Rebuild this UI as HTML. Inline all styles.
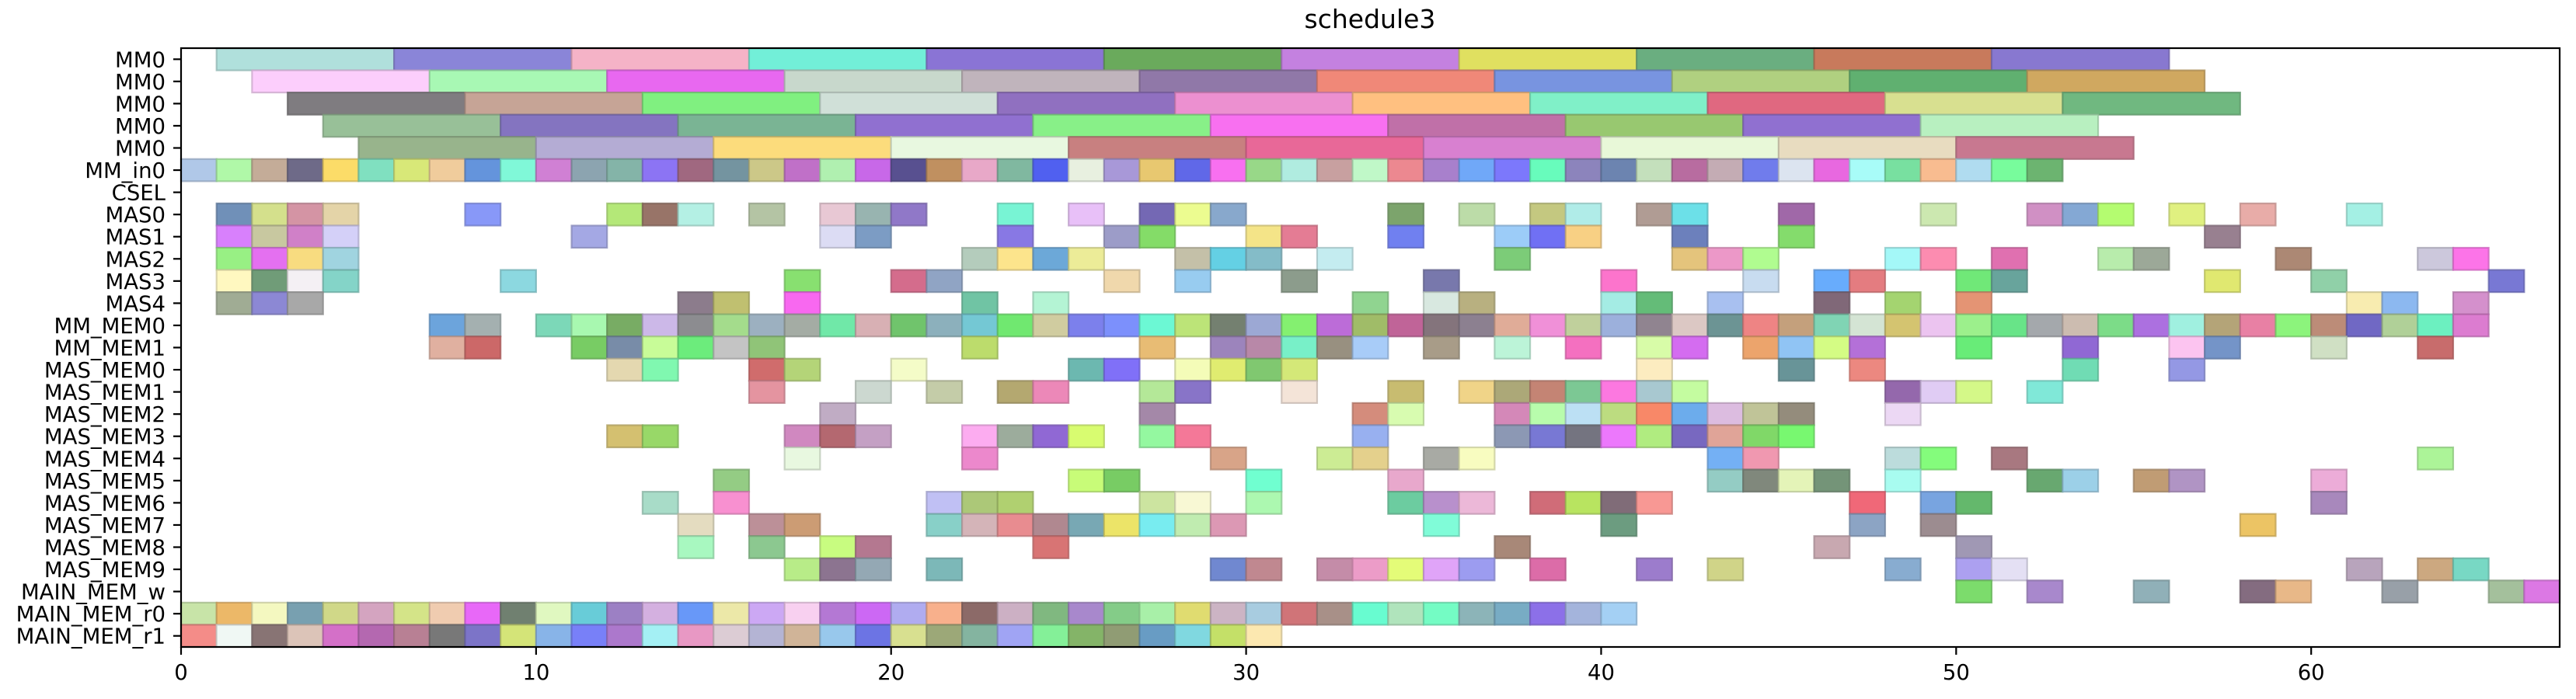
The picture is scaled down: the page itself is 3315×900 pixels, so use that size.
<!DOCTYPE html>
<html><head><meta charset="utf-8"><title>schedule3</title>
<style>html,body{margin:0;padding:0;background:#fff;}svg{display:block;font-family:"DejaVu Sans","Liberation Sans",sans-serif;}</style>
</head><body>
<svg id="chart" width="3315" height="900" viewBox="0 0 3315 900" xmlns="http://www.w3.org/2000/svg">
<rect x="0" y="0" width="3315" height="900" fill="#fff"/>
<text x="1763" y="36" font-size="33" text-anchor="middle" fill="#000">schedule3</text>
<g id="bars"></g>
<g id="axes"></g>
</svg>
<script>
const rowLabels = ["MM0","MM0","MM0","MM0","MM0","MM_in0","CSEL","MAS0","MAS1","MAS2","MAS3","MAS4","MM_MEM0","MM_MEM1","MAS_MEM0","MAS_MEM1","MAS_MEM2","MAS_MEM3","MAS_MEM4","MAS_MEM5","MAS_MEM6","MAS_MEM7","MAS_MEM8","MAS_MEM9","MAIN_MEM_w","MAIN_MEM_r0","MAIN_MEM_r1"];
const rowDur = [5,5,5,5,5,1,1,1,1,1,1,1,1,1,1,1,1,1,1,1,1,1,1,1,1,1,1];
const xTicks = [0,10,20,30,40,50,60];
const xMin = 0, xMax = 67;

const s0 = [1,6,11,16,21,26,31,36,41,46,51];
const c0 = ["b0e0dc","8a85d8","f5b3c7","72efd8","8a74d5","6aaa5c","c481e0","e0e060","6aae80","c87a5c","8878d0"];
const s1 = [2,7,12,17,22,27,32,37,42,47,52];
const c1 = ["fccefc","a8f8b4","e868f0","c8d8cc","c0b4bc","9078a8","f08878","7894e0","b0d080","60b070","d0a860"];
const s2 = [3,8,13,18,23,28,33,38,43,48,53];
const c2 = ["7f7c80","c6a496","80f080","d0e0d8","9070c0","ec90d0","ffc080","80f0c8","e06880","d8e090","70b880"];
const s3 = [4,9,14,19,24,29,34,39,44,49];
const c3 = ["98c098","8474c0","7ab494","9070d0","88f088","f870f0","c070a8","98c870","9070d0","b8f0c0"];
const s4 = [5,10,15,20,25,30,35,40,45,50];
const c4 = ["98b48c","b4acd4","fcdc7c","e8f8e0","c88080","e86898","d880d0","e8f8d8","e8dcc0","c87890"];
const s5 = [0,1,2,3,4,5,6,7,8,9,10,11,12,13,14,15,16,17,18,19,20,21,22,23,24,25,26,27,28,29,30,31,32,33,34,35,36,37,38,39,40,41,42,43,44,45,46,47,48,49,50,51,52];
const c5 = ["b0c8e8","b0f8a8","c4ac98","6e6a88","fcdc68","80e0c0","d8e878","f0cc9c","6494dc","80f8d8","d080d4","8ca4b0","84b4a8","8c74f4","a06880","7494a0","ccc888","c070c8","b0f0b0","c868e8","585090","c09060","e8a8c8","80b8a0","5060f0","e8f0e0","a898d8","e8c870","6068e8","f870f0","98d888","b0ece0","c8a0a0","c0f8c8","ec8890","a880cc","70a8f8","7c78fc","68fcbc","8c84bc","6c84b0","c4e0bc","b86ca0","c4acb4","707cec","dce4f0","e868e0","a8fcf8","78e0a0","f8bc90","b0dcf0","78fc9c","6cb470"];
const s6 = [];
const c6 = [];
const s7 = [1,2,3,4,8,12,13,14,16,18,19,20,23,25,27,28,29,34,36,38,39,41,42,45,49,52,53,54,56,58,61];
const c7 = ["7090b8","d4e08c","d494a4","e4d4a8","8898f8","b4e878","987468","b4f0e4","b4c4a4","e8c8d4","98b4b0","9078c8","78f4d4","e8c0f8","7468b4","ecfc90","88a8cc","7ca46c","bcdca8","c4c880","b0ece8","b09c94","6ce0e8","a068a8","cce8b0","d090c4","84a8d4","b4fc70","e0f080","e8aca8","a4f0e4"];
const s8 = [1,2,3,4,11,18,19,23,26,27,30,31,34,37,38,39,42,45,57];
const c8 = ["d880fc","c8c8a0","d080c8","d4d0f8","a4a8e4","dcdcf4","7c9cc4","8878e4","9c9cc8","84dc68","f4e488","e47c94","7080f0","9cccf8","7070f4","f8d084","6c80bc","84dc6c","988090"];
const s9 = [1,2,3,4,22,23,24,25,28,29,30,32,37,42,43,44,48,49,51,54,55,59,63,64];
const c9 = ["98f084","e470f0","f8dc80","a0d4e0","b4ccbc","fce48c","6ca8d8","ecec98","c4c0a8","64d0e4","84bcc8","c4ecf0","7ccc78","e4c47c","ec98c8","b0fc90","a4f8f8","fc8cb0","e070b0","b8ecac","9ca898","ac8874","ccc8dc","fc74e8"];
const s10 = [1,2,3,4,9,17,20,21,26,28,31,35,40,44,46,47,50,51,57,60,65];
const c10 = ["fff8c0","709c78","f4f0f4","84d4c8","8cd8e0","88e070","d46c8c","90a4c4","f0d8ac","98ccf0","8c9c8c","7878ac","fc74cc","c8dcf0","68acfc","e47c80","70e878","68a49c","e0e870","90d0a8","7878d4"];
const s11 = [1,2,3,14,15,17,22,24,33,35,36,40,41,43,46,48,50,61,62,64];
const c11 = ["a0ac94","8c88d4","a8a8a8","8c7c8c","c0c070","f868f0","70c4a4","b4f4d4","90d490","d8e8e0","b8b080","a4ece4","64bc78","a8c0f0","806878","a4d470","e49474","f8ecb0","8cb8f0","d490cc"];
const s12 = [7,8,10,11,12,13,14,15,16,17,18,19,20,21,22,23,24,25,26,27,28,29,30,31,32,33,34,35,36,37,38,39,40,41,42,43,44,45,46,47,48,49,50,51,52,53,54,55,56,57,58,59,60,61,62,63,64];
const c12 = ["6ca4dc","a4b0b0","7cd8b8","a8f8b0","78ac64","ccb8e8","8c8c90","a4dc8c","9cb0c0","a4aca4","70e8a8","d8b0b4","70c46c","8cb0bc","74c8d4","70e870","d0cca0","7c80ec","7c90fc","6cf8d4","bce478","748070","9ca8d4","84f070","bc6cd8","a0bc68","c06498","84747c","8c8090","e0ac98","f090d8","c0d09c","9cb0dc","908490","dcc8c4","6c9494","ee8484","c4a07c","80d4b4","d4e4d4","d4c470","ecc4f0","9cf08c","68e488","a4a8ac","ccbcb0","7cdc88","ac70e0","a0f0e0","b4a478","e880a4","8cf47c","bc8c78","7068c4","b0d098","6cf0c0","dc7cd0"];
const s13 = [7,8,11,12,13,14,15,16,22,27,29,30,31,32,33,35,37,39,41,42,44,45,46,47,50,53,56,57,60,63];
const c13 = ["e0b0a0","cc6868","78cc64","788ca8","c8fc98","6cec7c","c4c4c4","90c478","bcdc6c","e8bc74","9c84bc","b888a8","78f0c8","989080","a8ccf8","a89c88","bcf4d8","f470c0","d8fca8","d46cf0","eca46c","90c4f4","d4fc84","b470d8","68ec78","9068d4","fcc4f0","7494c8","d0e0c4","c86c6c"];
const s14 = [12,13,16,17,20,25,26,28,29,30,31,41,45,47,53,56];
const c14 = ["e4d8b0","80f8b0","d06c6c","b4d478","f4fcc8","6cb8b0","8070f8","f4fcb8","e0ec70","80c870","d4e878","fcecc0","689498","ec8880","70dcb4","9498e4"];
const s15 = [16,19,21,23,24,27,28,31,34,36,37,38,39,40,41,42,48,49,50,52];
const c15 = ["e494a0","ccd8d0","c4cca8","b4a870","ec88b8","b4e898","8874c8","f4e4d8","c8bc70","f0d488","aca878","c48474","7cc894","fc78e0","a8c8d0","c4fca0","9468ac","e0ccf4","d4f888","80e8d8"];
const s16 = [18,27,33,34,37,38,39,40,41,42,43,44,45,48];
const c16 = ["c0acc4","a488a8","d48c7c","d8fcb0","d488b8","b8fcac","bce0f4","bcdc80","f88868","6cacec","dcbce0","c0c498","948c7c","ecd8f4"];
const s17 = [12,13,17,18,19,22,23,24,25,27,28,33,37,38,39,40,41,42,43,44,45];
const c17 = ["d4c070","98d868","d088c0","b46870","c4a0c4","fcacf0","9cac9c","9068d4","d8fc70","94f8a0","f47898","98b0f0","8c98b4","7878d4","747480","ec78fc","b0ec80","7868c0","e0a498","80d868","78f870"];
const s18 = [17,22,29,32,33,35,36,43,44,48,49,51,63];
const c18 = ["e8f8e0","ec88cc","d8a488","ccec94","e4d08c","a8aaa4","f8fcc0","74b0f4","f098b0","bcdcdc","84fc7c","a87880","acf498"];
const s19 = [15,25,26,30,34,43,44,45,46,48,52,53,55,56,60];
const c19 = ["94cc84","c8fc78","78cc64","70ffd0","e8a8cc","94ccc4","80887c","e4f4b8","749478","a8fcf0","68a870","9cd0e8","c09c74","b094c4","ecacd8"];
const s20 = [13,15,21,22,23,27,28,30,34,35,36,38,39,40,41,47,49,50,60];
const c20 = ["a8dcc8","f890d0","c0c0f4","acc878","b0d070","cce4a0","f8f8d4","acf8b0","6ccca0","b890cc","ecb8d8","d06c78","b8e460","806c78","f89894","f06878","78a4e0","64b86c","a888bc"];
const s21 = [14,16,17,21,22,23,24,25,26,27,28,29,35,40,47,49,58];
const c21 = ["e4dcc0","bc9098","cc9c74","88d0c8","d4b4b8","e88c90","b08890","78a8b4","ece468","78ecf0","c0ecb0","dc98b4","80fcd8","6c9c80","8ca4c4","9c8c90","ecc464"];
const s22 = [14,16,18,19,24,37,46,50];
const c22 = ["a8f8c0","8cc890","c8fc80","b47890","d87474","a88878","c8a8b0","a098b4"];
const s23 = [17,18,19,21,29,30,32,33,34,35,36,38,41,43,48,50,51,61,63,64];
const c23 = ["b8ec88","8c7490","94a8b4","7cb8b8","7088d0","c08890","c48ca8","ec9cc8","e4fc78","e0a4f8","9c9cf0","dc6ca8","9c7ccc","d0d488","88acd0","aca0f0","e4e0f4","b8a4bc","cca880","78d8c4"];
const s24 = [50,52,55,58,59,62,65,66];
const c24 = ["7cdc6c","a888cc","90b0b8","846c80","e8b888","98a0a8","a4c09c","dc78e4"];
const s25 = [0,1,2,3,4,5,6,7,8,9,10,11,12,13,14,15,16,17,18,19,20,21,22,23,24,25,26,27,28,29,30,31,32,33,34,35,36,37,38,39,40];
const c25 = ["c8e4a8","ecb868","f4f8c0","78a0b0","d0d888","d4a4c0","d4e488","f0ccb0","e868f8","708070","e0f8c0","68ccd8","9c80c4","d4b0e0","6898f8","ece8a8","cca8f4","f8d0f0","b478d4","cc68f4","b0acf0","f8b08c","8c6a68","ccb0c4","80b880","a888cc","84cc88","a8f0a8","e0dc70","ccb4c4","a8cce0","d07478","a89088","68fcd0","b0e4bc","74fcc4","8cb4b8","78acc4","8c70e8","a4b4dc","a4d0f4"];
const s26 = [0,1,2,3,4,5,6,7,8,9,10,11,12,13,14,15,16,17,18,19,20,21,22,23,24,25,26,27,28,29,30];
const c26 = ["f48c88","f0f8f4","887474","dcc4b8","d470c8","b468b0","b88094","787878","7c74c8","d4e478","88b4e8","7880f8","ac78cc","a4f0f4","e898c4","dcccd4","b4b4d4","d0b498","98c8ec","6c74e4","d8e090","9ca878","84b4a0","a0a4f4","84f098","84b468","909c74","689cc4","80d8e0","c4e068","fce8b0"];

const rowStarts = [s0,s1,s2,s3,s4,s5,s6,s7,s8,s9,s10,s11,s12,s13,s14,s15,s16,s17,s18,s19,s20,s21,s22,s23,s24,s25,s26];
const rowColors = [c0,c1,c2,c3,c4,c5,c6,c7,c8,c9,c10,c11,c12,c13,c14,c15,c16,c17,c18,c19,c20,c21,c22,c23,c24,c25,c26];

const NS = "http://www.w3.org/2000/svg";
const L = 233, R = 3294, T = 62, B = 833;
const xScale = v => L + (v - xMin) / (xMax - xMin) * (R - L);
const rowH = (B - T) / rowLabels.length;
const yScale = r => T + r * rowH;
function darker(hex){
  const n = parseInt(hex,16);
  const r = Math.round(((n>>16)&255)*0.8), g = Math.round(((n>>8)&255)*0.8), b = Math.round((n&255)*0.8);
  return "rgb("+r+","+g+","+b+")";
}
const barsG = document.getElementById("bars");
for (let r = 0; r < rowLabels.length; r++) {
  const st = rowStarts[r], co = rowColors[r];
  for (let i = 0; i < st.length; i++) {
    const x0 = xScale(st[i]), x1 = xScale(st[i] + rowDur[r]);
    const rect = document.createElementNS(NS, "rect");
    rect.setAttribute("x", x0);
    rect.setAttribute("y", yScale(r));
    rect.setAttribute("width", x1 - x0);
    rect.setAttribute("height", rowH);
    rect.setAttribute("fill", "#" + co[i]);
    rect.setAttribute("stroke", darker(co[i]));
    rect.setAttribute("stroke-opacity", "0.75");
    rect.setAttribute("stroke-width", "2.2");
    
    
    barsG.appendChild(rect);
  }
}
const axesG = document.getElementById("axes");
const frame = document.createElementNS(NS, "rect");
frame.setAttribute("x", L); frame.setAttribute("y", T);
frame.setAttribute("width", R - L); frame.setAttribute("height", B - T);
frame.setAttribute("fill", "none"); frame.setAttribute("stroke", "#000"); frame.setAttribute("stroke-width", "2.2");


axesG.appendChild(frame);
for (let r = 0; r < rowLabels.length; r++) {
  const yc = yScale(r) + rowH / 2;
  const tk = document.createElementNS(NS, "line");
  tk.setAttribute("x1", L - 10); tk.setAttribute("x2", L);
  tk.setAttribute("y1", yc); tk.setAttribute("y2", yc);
  tk.setAttribute("stroke", "#000"); tk.setAttribute("stroke-width", "2.2");
  
  
  axesG.appendChild(tk);
  const tx = document.createElementNS(NS, "text");
  tx.setAttribute("x", L - 20); tx.setAttribute("y", yc + 10);
  tx.setAttribute("font-size", "27.5"); tx.setAttribute("text-anchor", "end");
  tx.textContent = rowLabels[r];
  
  
  axesG.appendChild(tx);
}
for (const v of xTicks) {
  const x = xScale(v);
  const tk = document.createElementNS(NS, "line");
  tk.setAttribute("x1", x); tk.setAttribute("x2", x);
  tk.setAttribute("y1", B); tk.setAttribute("y2", B + 10);
  tk.setAttribute("stroke", "#000"); tk.setAttribute("stroke-width", "2.2");
  
  
  axesG.appendChild(tk);
  const tx = document.createElementNS(NS, "text");
  tx.setAttribute("x", x); tx.setAttribute("y", B + 42);
  tx.setAttribute("font-size", "27.5"); tx.setAttribute("text-anchor", "middle");
  tx.textContent = String(v);
  
  
  axesG.appendChild(tx);
}
</script>
</body></html>
